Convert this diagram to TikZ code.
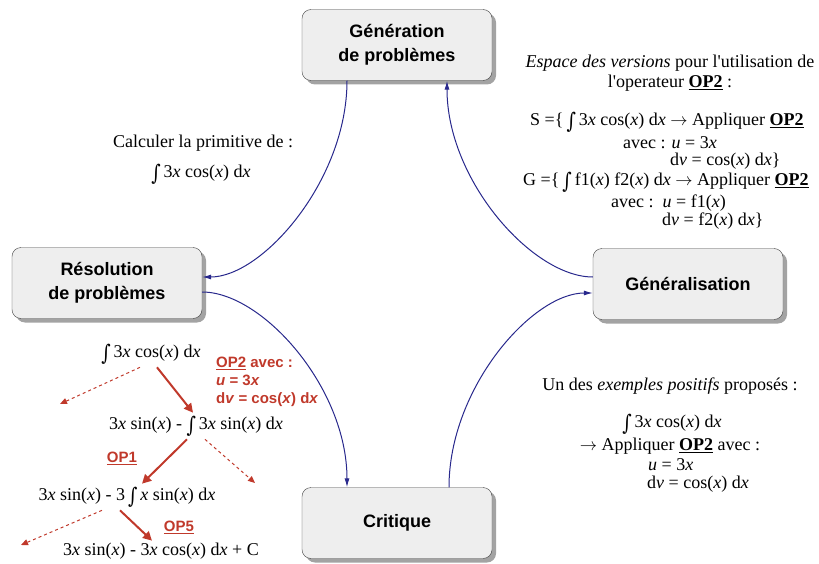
\documentclass[tikz,border=0pt]{standalone}
\usepackage{fontspec}
\usepackage{graphicx}
\setmainfont{Liberation Serif}
\setsansfont{Liberation Sans}
\newfontfamily\intfont{DejaVu Serif}
\usetikzlibrary{arrows.meta,shadows}

\definecolor{navy}{RGB}{40,40,140}
\definecolor{brick}{RGB}{192,57,43}
\definecolor{boxgray}{RGB}{238,238,238}

\newcommand{\vx}{\textit{x}}
\newcommand{\Int}{\raisebox{-.35ex}{\scalebox{1}[1.2]{\intfont ∫}}\,}
\newcommand{\toarrow}{$\rightarrow$}
\newcommand{\apos}{\textquotesingle}

\tikzset{stage/.style={shape=rectangle,draw=black!75,fill=boxgray,rounded corners=9pt,
          minimum width=190pt,minimum height=71pt,align=center,
          font=\sffamily\bfseries\fontsize{18}{24}\selectfont,
          drop shadow={shadow xshift=4pt,shadow yshift=-4pt,fill=black!45,opacity=.8}},
        txt/.style={inner sep=0pt,font=\fontsize{18}{20}\selectfont},
        redtxt/.style={inner sep=0pt,text=brick,align=left,
          font=\sffamily\bfseries\fontsize{15}{18}\selectfont},
        flow/.style={draw=navy,line width=1pt,-{Latex[length=9pt,width=5pt]}},
        redarrow/.style={draw=brick,line width=2pt,-{Triangle[length=9pt,width=9pt]}},
        redalt/.style={draw=brick,line width=1pt,dashed,-{Triangle[length=7pt,width=6pt]}}}

\begin{document}
\begin{tikzpicture}[x=1pt,y=-1pt]
        \useasboundingbox (0,0) rectangle (819,564);

        \node[stage] (gen) at (397,45) {Génération\\de problèmes};
        \node[stage] (res) at (107,283) {Résolution\\de problèmes};
        \node[stage] (gnr) at (688,284) {Généralisation};
        \node[stage] (crit) at (397,523) {Critique};

        \path[flow] ([xshift=-50pt]gen.south) .. controls +(0,100) and +(60,0) .. ([yshift=6pt]res.east);
        \path[flow] ([yshift=-9pt]res.east) .. controls +(60,0) and +(0,-100) .. ([xshift=-50pt]crit.north);
        \path[flow] ([xshift=52pt]crit.north) .. controls +(0,-100) and +(-60,0) .. ([yshift=-9pt]gnr.west);
        \path[flow] ([yshift=7pt]gnr.west) .. controls +(-60,0) and +(0,100) .. ([xshift=50pt]gen.south);

        % problem text
        \node[txt] (calc) at (203,143) {Calculer la primitive de :};
        \node[txt] (prim) at (201,174) {\Int 3\vx{} cos(\vx) d\vx};

        % version space
        \node[txt,align=center] (vs) at (670,73) {\textit{Espace des versions} pour l\apos utilisation de\\l\apos operateur \textbf{\underline{OP2}} :};
        \node[txt,anchor=west] (s1) at (530,122) {S =\{\,\Int 3\vx{} cos(\vx) d\vx{} \toarrow{} Appliquer \textbf{\underline{OP2}}};
        \node[txt,anchor=west] (s2) at (623,143) {avec : \textit{u} = 3\vx};
        \node[txt,anchor=west] (s3) at (670,161) {d\textit{v} = cos(\vx) d\vx\}};
        \node[txt,anchor=west] (g1) at (523,182) {G =\{\,\Int f1(\vx) f2(\vx) d\vx{} \toarrow{} Appliquer \textbf{\underline{OP2}}};
        \node[txt,anchor=west] (g2) at (611,203) {avec :\ \ \textit{u} = f1(\vx)};
        \node[txt,anchor=west] (g3) at (662,221) {d\textit{v} = f2(\vx) d\vx\}};

        % positive example
        \node[txt] (ex) at (670,386) {Un des \textit{exemples positifs} proposés :};
        \node[txt] (e1) at (672,424) {\Int 3\vx{} cos(\vx) d\vx};
        \node[txt] (e2) at (670,446) {\toarrow{} Appliquer \textbf{\underline{OP2}} avec :};
        \node[txt,anchor=west] (e3) at (648,465) {\textit{u} = 3\vx};
        \node[txt,anchor=west] (e4) at (647,484) {d\textit{v} = cos(\vx) d\vx};

        % solving tree
        \node[txt,inner sep=3pt] (t0) at (151,354) {\Int 3\vx{} cos(\vx) d\vx};
        \node[txt,inner sep=3pt] (t1) at (196,426) {3\vx{} sin(\vx) - \Int 3\vx{} sin(\vx) d\vx};
        \node[txt,inner sep=3pt] (t2) at (127,497) {3\vx{} sin(\vx) - 3\,\Int \vx{} sin(\vx) d\vx};
        \node[txt,inner sep=2pt] (t3) at (161,551) {3\vx{} sin(\vx) - 3\vx{} cos(\vx) d\vx{} + C};

        \node[redtxt,anchor=west] (op2) at (216,382) {\underline{OP2} avec :\\\textit{u} = 3\textit{x}\\d\textit{v} = cos(\textit{x}) d\textit{x}};
        \node[redtxt] (op1) at (122,458) {\underline{OP1}};
        \node[redtxt] (op5) at (179,527) {\underline{OP5}};

        \coordinate (d1) at (60,404);
        \coordinate (d2) at (255,483);
        \coordinate (d3) at (21,545);

        \path[redarrow] ([xshift=6pt]t0.south) -- ([xshift=-3pt]t1.north);
        \path[redarrow] ([xshift=-9pt]t1.south) -- ([xshift=15pt]t2.north);
        \path[redarrow] ([xshift=-7pt]t2.south) -- ([xshift=-9pt]t3.north);
        \path[redalt] ([xshift=-11pt]t0.south) -- (d1);
        \path[redalt] ([xshift=9pt]t1.south) -- (d2);
        \path[redalt] ([xshift=-25pt]t2.south) -- (d3);
      \end{tikzpicture}
\end{document}
